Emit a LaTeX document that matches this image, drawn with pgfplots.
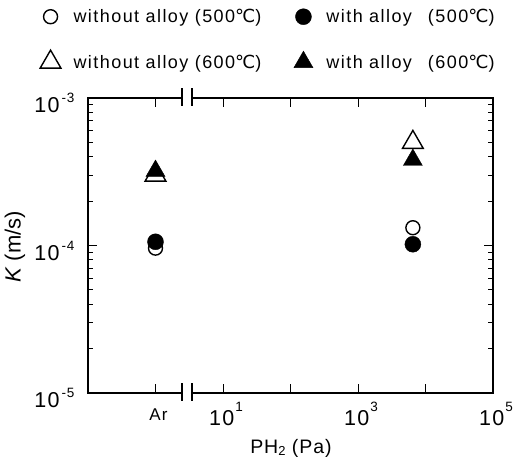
\documentclass[border=0pt]{standalone}
\usepackage{fontspec}
\setmainfont{Liberation Sans}
\newfontfamily\legfont[LetterSpace=8]{Liberation Sans}
\newfontfamily\tickfont[LetterSpace=6]{Liberation Sans}
\newfontfamily\arfont[LetterSpace=6]{Liberation Sans}
\newfontfamily\labfont[LetterSpace=5]{Liberation Sans}
\newfontfamily\djfont{DejaVu Sans}
\usepackage{pgfplots}
\pgfplotsset{compat=1.18}
\newcommand{\degC}{{\djfont ℃}}
\newcommand{\ex}[1]{10\hspace{2pt}\raisebox{10pt}{\fontsize{13.5}{15}\selectfont #1}}
\newcommand{\exx}[1]{10\hspace{1pt}\raisebox{14pt}{\fontsize{13.5}{15}\selectfont #1}}

\begin{document}
\begin{tikzpicture}[x=1pt,y=1pt]
\path[use as bounding box] (0,0) rectangle (514,457);
\begin{axis}[
  at={(88pt,64pt)}, anchor=south west,
  scale only axis, width=405pt, height=295pt,
  xmode=log, ymode=log,
  xmin=0.1, xmax=1e5, ymin=1e-5, ymax=1e-3,
  xtick={1,10,100,1000,10000,100000},
  xticklabels={{\rule{0pt}{17.5pt}\fontsize{17}{19}\selectfont\arfont Ar},\exx{1},,\exx{3},,\exx{5}},
  ytick={1e-5,1e-4,1e-3},
  yticklabels={\ex{-5},\ex{-4},\ex{-3}},
  xminorticks=false,
  tick align=inside,
  major tick length=9pt, minor tick length=5pt,
  axis line style={line width=1.3pt},
  every tick/.style={line width=1pt, black},
  ticklabel style={font=\fontsize{21.5}{24}\selectfont\tickfont},
  xticklabel style={yshift=-6pt, xshift=3pt},
  yticklabel style={yshift=-5pt, xshift=-10pt},
  clip=false,
  legend columns=2,
  legend cell align=left,
  legend style={at={(-0.126,1.315)}, anchor=north west, draw=none, fill=none,
    font=\fontsize{18}{20}\selectfont\legfont,
    /tikz/every even column/.append style={column sep=30pt},
    row sep=24pt},
  legend image code/.code={\draw[#1, only marks] plot coordinates {(10pt,0pt)}; \path[draw=none,fill=none] (0pt,0pt) -- (31pt,0pt);},
]
\addplot[only marks, mark=*, mark size=7pt, mark options={fill=white, draw=black, line width=1.4pt}]
  coordinates {(1,9.6e-5) (6500,1.32e-4)};
\addlegendentry{without alloy (500\degC)}
\addplot[only marks, mark=*, mark size=8pt, mark options={fill=black, draw=black}]
  coordinates {(1,1.06e-4) (6500,1.02e-4)};
\addlegendentry{with alloy\hspace{16pt}(500\degC)}
\addplot[only marks, mark=triangle*, mark size=12pt, mark options={fill=white, draw=black, line width=1.4pt}]
  coordinates {(1,3.0e-4) (6500,5.0e-4)};
\addlegendentry{without alloy (600\degC)}
\addplot[only marks, mark=triangle*, mark size=11pt, mark options={fill=black, draw=black}]
  coordinates {(1,3.2e-4) (6500,3.8e-4)};
\addlegendentry{with alloy\hspace{16pt}(600\degC)}
\coordinate (bA) at (axis cs:2.47,1e-5);
\coordinate (bB) at (axis cs:3.48,1e-5);
\coordinate (tA) at (axis cs:2.47,1e-3);
\coordinate (tB) at (axis cs:3.48,1e-3);
\end{axis}
\fill[white] ([yshift=-2pt]bA) rectangle ([yshift=2pt]bB);
\fill[white] ([yshift=-2pt]tA) rectangle ([yshift=2pt]tB);
\draw[line width=1.4pt] ([yshift=-8pt]bA) -- ([yshift=10pt]bA);
\draw[line width=1.4pt] ([yshift=-8pt]bB) -- ([yshift=10pt]bB);
\draw[line width=1.4pt] ([yshift=-8pt]tA) -- ([yshift=10pt]tA);
\draw[line width=1.4pt] ([yshift=-8pt]tB) -- ([yshift=10pt]tB);
\node[font=\fontsize{19.5}{22}\selectfont\labfont] at (291,457-448) {PH\raisebox{-2pt}{\fontsize{13}{14}\selectfont 2} (Pa)};
\node[rotate=90, font=\fontsize{22}{26}\selectfont] at (15,457-247) {\textit{K} (m/s)};
\end{tikzpicture}
\end{document}
